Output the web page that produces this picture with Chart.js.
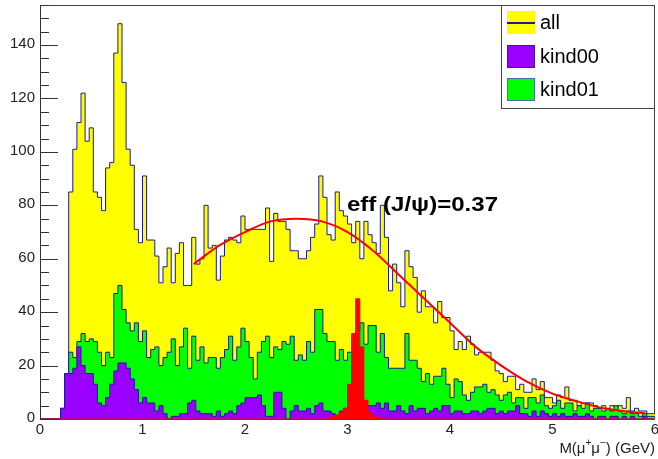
<!DOCTYPE html>
<html>
<head>
<meta charset="utf-8">
<script src="https://cdn.jsdelivr.net/npm/chart.js@4.4.1/dist/chart.umd.min.js"></script>
<style>
  body { margin: 0; background: #fff; }
  canvas { display: block; }
</style>
</head>
<body>
<canvas id="massChart" width="658" height="459"></canvas>
<script>
// Histogram binning (150 bins from 0 to 6 GeV)
const xMin = 0, xMax = 6;

// "all" entries per bin
const allCounts = [
    0, 0, 0, 0, 0, 4, 17, 85, 101, 111,
    122, 104, 109, 85, 83, 78, 94, 96, 137, 148,
    126, 101, 95, 71, 66, 91, 67, 67, 61, 51,
    57, 64, 51, 62, 66, 50, 50, 68, 58, 60,
    80, 64, 65, 52, 61, 67, 68, 67, 66, 76,
    71, 71, 71, 71, 71, 79, 59, 77, 74, 74,
    71, 63, 63, 60, 60, 63, 68, 73, 91, 83,
    69, 67, 85, 78, 76, 73, 66, 74, 60, 74,
    69, 66, 62, 80, 68, 48, 58, 51, 42, 63,
    57, 53, 40, 48, 42, 42, 36, 44, 38, 38,
    33, 26, 29, 26, 31, 28, 24, 25, 25, 25,
    22, 18, 17, 14, 16, 16, 11, 13, 10, 10,
    15, 11, 14, 8, 8, 6, 9, 8, 12, 7,
    7, 5, 6, 6, 6, 5, 4, 5, 3, 5,
    4, 5, 4, 8, 3, 4, 3, 3, 2, 2
];

// kind01 entries per bin
const kind01Counts = [
    0, 0, 0, 0, 0, 0, 0, 25, 23, 29,
    32, 29, 30, 29, 25, 20, 25, 23, 47, 50,
    41, 36, 33, 36, 29, 33, 23, 26, 27, 20,
    23, 25, 30, 20, 27, 34, 19, 31, 22, 27,
    21, 23, 23, 19, 23, 26, 31, 22, 27, 34,
    29, 23, 15, 25, 29, 31, 23, 27, 26, 29,
    28, 31, 22, 24, 22, 29, 25, 41, 41, 32,
    29, 29, 22, 26, 22, 25, 30, 33, 36, 28,
    35, 35, 25, 32, 23, 19, 19, 19, 19, 32,
    22, 22, 19, 14, 17, 13, 16, 16, 19, 13,
    8, 15, 14, 9, 7, 10, 12, 12, 13, 10,
    11, 9, 7, 9, 10, 6, 8, 8, 4, 8,
    8, 6, 9, 5, 4, 5, 7, 4, 6, 6,
    3, 5, 4, 6, 3, 4, 4, 3, 4, 3,
    5, 3, 2, 3, 2, 2, 1, 2, 1, 1
];

// kind00 entries per bin
const kind00Counts = [
    0, 0, 0, 0, 0, 4, 17, 17, 19, 27,
    20, 17, 17, 13, 6, 5, 8, 13, 18, 21,
    21, 19, 15, 11, 6, 8, 6, 6, 3, 5,
    2, 0, 1, 1, 2, 2, 6, 7, 3, 2,
    2, 2, 1, 3, 1, 2, 3, 2, 5, 6,
    8, 8, 8, 9, 5, 1, 1, 10, 10, 4,
    0, 3, 5, 3, 3, 4, 2, 5, 6, 3,
    3, 2, 1, 3, 4, 3, 2, 2, 3, 4,
    5, 5, 6, 4, 6, 3, 3, 5, 3, 2,
    5, 3, 4, 4, 2, 3, 4, 3, 5, 5,
    2, 3, 3, 2, 2, 3, 3, 2, 3, 4,
    4, 2, 3, 2, 3, 3, 5, 2, 2, 1,
    3, 1, 3, 2, 1, 2, 1, 2, 1, 1,
    2, 1, 1, 2, 1, 0, 1, 1, 0, 1,
    1, 0, 1, 0, 1, 0, 0, 1, 0, 0
];

// J/psi candidates per bin
const jpsiCounts = [
    0, 0, 0, 0, 0, 0, 0, 0, 0, 0,
    0, 0, 0, 0, 0, 0, 0, 0, 0, 0,
    0, 0, 0, 0, 0, 0, 0, 0, 0, 0,
    0, 0, 0, 0, 0, 0, 0, 0, 0, 0,
    0, 0, 0, 0, 0, 0, 0, 0, 0, 0,
    0, 0, 0, 0, 0, 0, 0, 0, 0, 0,
    0, 0, 0, 0, 0, 0, 0, 0, 0, 0,
    0.5, 1, 1.5, 2.5, 4, 13, 32, 45, 27, 7,
    2.5, 1, 0.5, 0.3, 0, 0, 0, 0, 0, 0,
    0, 0, 0, 0, 0, 0, 0, 0, 0, 0,
    0, 0, 0, 0, 0, 0, 0, 0, 0, 0,
    0, 0, 0, 0, 0, 0, 0, 0, 0, 0,
    0, 0, 0, 0, 0, 0, 0, 0, 0, 0,
    0, 0, 0, 0, 0, 0, 0, 0, 0, 0,
    0, 0, 0, 0, 0, 0, 0, 0, 0, 0
];

// Fit curve
const fitX = [1.5, 1.75, 2.0, 2.25, 2.5, 2.75, 3.0, 3.25, 3.5, 3.75, 4.0, 4.25, 4.5, 4.75, 5.0, 5.25, 5.5, 5.75, 5.9];
const fitY = [58, 65, 70, 74, 75, 74, 70, 63, 54, 45, 36, 27, 20, 14, 9.5, 6.5, 4, 2.7, 2.2];

// Axis ticks
const xTicks = [0, 1, 2, 3, 4, 5, 6];
const yTicks = [0, 20, 40, 60, 80, 100, 120, 140];
const yMax = 155;

const FONT = '"Liberation Sans", Arial, Helvetica, sans-serif';
const OUTLINE = "#1a1a9a";

// turn bin contents into step points (left edge of every bin + closing edge)
function histPoints(counts) {
    const w = (xMax - xMin) / counts.length;
    const pts = counts.map((v, i) => ({ x: xMin + i * w, y: v }));
    pts.push({ x: xMax, y: counts[counts.length - 1] });
    return pts;
}

function histDataset(label, counts, fillColor, lineColor, order) {
    return {
        label,
        data: histPoints(counts),
        stepped: true,
        fill: "origin",
        backgroundColor: fillColor,
        borderColor: lineColor,
        borderWidth: 1,
        pointRadius: 0,
        order
    };
}

// ROOT style frame, ticks, labels, legend and text
const rootFrame = {
    id: "rootFrame",
    beforeDatasetsDraw(chart) {
        const { ctx, chartArea: a, scales: { y } } = chart;
        ctx.save();
        ctx.strokeStyle = "#444";
        ctx.lineWidth = 1;
        ctx.strokeRect(a.left + 0.5, a.top + 0.5, a.right - a.left - 1, a.bottom - a.top);
        // y ticks (inside), minor every 5
        ctx.strokeStyle = "#333";
        for (let v = 0; v <= yMax; v += 5) {
            const py = Math.round(y.getPixelForValue(v)) + 0.5;
            const len = v % 20 === 0 ? 18 : 9;
            ctx.beginPath();
            ctx.moveTo(a.left, py);
            ctx.lineTo(a.left + len, py);
            ctx.stroke();
        }
        ctx.restore();
    },
    afterDatasetsDraw(chart) {
        const { ctx, chartArea: a, scales: { x, y } } = chart;
        ctx.save();
        // left axis line
        ctx.strokeStyle = "#333";
        ctx.beginPath();
        ctx.moveTo(a.left + 0.5, a.top);
        ctx.lineTo(a.left + 0.5, a.bottom);
        ctx.stroke();

        // tick labels
        ctx.fillStyle = "#222";
        ctx.font = "15px " + FONT;
        ctx.textAlign = "right";
        ctx.textBaseline = "middle";
        yTicks.forEach(v => ctx.fillText(String(v), a.left - 5, y.getPixelForValue(v) - 1));
        ctx.textAlign = "center";
        xTicks.forEach(v => ctx.fillText(String(v), x.getPixelForValue(v), a.bottom + 11));

        // x title with superscripts
        const runs = [["M(\u03bc", false], ["+", true], ["\u03bc", false], ["\u2212", true], [") (GeV)", false]];
        const fontFor = sup => (sup ? "10px " : "15px ") + FONT;
        let total = 0;
        runs.forEach(([t, sup]) => { ctx.font = fontFor(sup); total += ctx.measureText(t).width; });
        let px = a.right - total;
        ctx.textAlign = "left";
        ctx.textBaseline = "alphabetic";
        runs.forEach(([t, sup]) => {
            ctx.font = fontFor(sup);
            ctx.fillText(t, px, sup ? 446 : 453);
            px += ctx.measureText(t).width;
        });

        // efficiency text
        ctx.fillStyle = "#000";
        ctx.font = "bold 21px " + FONT;
        const label = "eff (J/\u03c8)=0.37";
        const wantW = 151;
        const sx = wantW / ctx.measureText(label).width;
        ctx.translate(347, 211);
        ctx.scale(sx, 1);
        ctx.fillText(label, 0, 0);
        ctx.restore();

        // legend box
        ctx.save();
        const lx = 501, ly = 5, lw = a.right - 501, lh = 103;
        ctx.fillStyle = "#fff";
        ctx.fillRect(lx, ly, lw, lh);
        ctx.strokeStyle = "#444";
        ctx.lineWidth = 1;
        ctx.strokeRect(lx + 0.5, ly + 0.5, lw - 1, lh);
        const entries = [
            { text: "all", fill: "#ffff00", edge: "#ffff00", line: true, top: 11 },
            { text: "kind00", fill: "#9900ff", edge: "#3a1a9a", line: false, top: 45 },
            { text: "kind01", fill: "#00ff00", edge: "#4a6ab0", line: false, top: 78 }
        ];
        entries.forEach(e => {
            ctx.fillStyle = e.fill;
            ctx.fillRect(507, e.top, 28, 23);
            ctx.strokeStyle = e.edge;
            ctx.strokeRect(507.5, e.top + 0.5, 27, 22);
            if (e.line) {
                ctx.strokeStyle = OUTLINE;
                ctx.lineWidth = 2;
                ctx.beginPath();
                ctx.moveTo(507, e.top + 12);
                ctx.lineTo(535, e.top + 12);
                ctx.stroke();
                ctx.lineWidth = 1;
            }
            ctx.fillStyle = "#000";
            ctx.font = "20px " + FONT;
            ctx.textAlign = "left";
            ctx.textBaseline = "alphabetic";
            ctx.fillText(e.text, 540, e.top + 18);
        });
        ctx.restore();
    }
};

new Chart(document.getElementById("massChart"), {
    type: "line",
    data: {
        datasets: [
            {
                label: "fit",
                data: fitX.map((v, i) => ({ x: v, y: fitY[i] })),
                borderColor: "#ff0000",
                borderWidth: 2,
                pointRadius: 0,
                fill: false,
                cubicInterpolationMode: "monotone",
                order: 0
            },
            histDataset("J/psi", jpsiCounts, "#ff0000", "#ff0000", 1),
            histDataset("kind00", kind00Counts, "#9900ff", OUTLINE, 2),
            histDataset("kind01", kind01Counts, "#00ff00", OUTLINE, 3),
            histDataset("all", allCounts, "#ffff00", OUTLINE, 4)
        ]
    },
    options: {
        responsive: false,
        animation: false,
        layout: { padding: { left: 40, right: 3, top: 5, bottom: 40 } },
        scales: {
            x: { type: "linear", min: xMin, max: xMax, display: false },
            y: { min: 0, max: yMax, display: false }
        },
        plugins: {
            legend: { display: false },
            tooltip: { enabled: false }
        }
    },
    plugins: [rootFrame]
});
</script>
</body>
</html>
